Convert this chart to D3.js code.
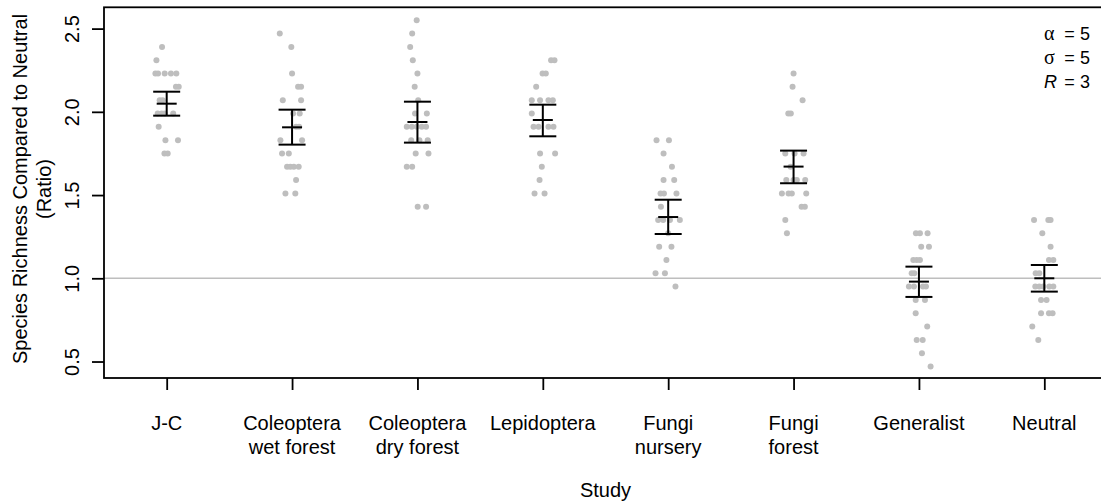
<!DOCTYPE html>
<html>
<head>
<meta charset="utf-8">
<script src="https://cdn.jsdelivr.net/npm/d3@7"></script>
<style>
  html, body { margin: 0; padding: 0; background: #fff; }
  svg { display: block; font-family: "Liberation Sans", Arial, Helvetica, sans-serif; }
</style>
</head>
<body>
<svg id="chart" width="1101" height="504"></svg>
<script>
// Study labels (line breaks split the two-line tick labels)
const studies = ["J-C", "Coleoptera\nwet forest", "Coleoptera\ndry forest", "Lepidoptera",
                 "Fungi\nnursery", "Fungi\nforest", "Generalist", "Neutral"];

// Per-replicate richness ratios and their horizontal jitter (in study units)
const ratioJC = [2.39, 2.31, 2.23, 2.23, 2.23, 2.23, 2.23, 2.15, 2.15, 2.07, 2.07, 1.99, 1.99, 1.99, 1.99, 1.91, 1.83, 1.83, 1.75, 1.75];
const jitterJC = [-0.037, -0.082, -0.090, -0.069, -0.016, 0.034, 0.077, 0.074, 0.096, -0.056, -0.032, -0.072, -0.040, -0.016, 0.052, -0.064, -0.010, 0.090, -0.018, 0.008];

const ratioColWet = [2.47, 2.39, 2.23, 2.15, 2.15, 2.07, 2.07, 1.99, 1.99, 1.91, 1.91, 1.83, 1.83, 1.75, 1.75, 1.67, 1.67, 1.67, 1.67, 1.59, 1.51, 1.51];
const jitterColWet = [-0.098, -0.006, 0.000, 0.048, 0.072, -0.074, 0.072, 0.008, 0.061, 0.032, 0.056, -0.093, 0.080, -0.080, -0.026, -0.040, -0.014, 0.014, 0.053, 0.032, -0.053, 0.026];

const ratioColDry = [2.55, 2.47, 2.39, 2.31, 2.23, 2.15, 2.07, 1.99, 1.99, 1.91, 1.91, 1.91, 1.91, 1.91, 1.83, 1.83, 1.83, 1.75, 1.75, 1.67, 1.67, 1.43, 1.43];
const jitterColDry = [-0.006, -0.042, -0.058, -0.037, 0.000, -0.022, 0.006, -0.019, 0.075, -0.085, -0.045, -0.005, 0.035, 0.069, -0.050, 0.016, 0.082, -0.014, 0.088, -0.085, -0.042, 0.002, 0.069];

const ratioLep = [2.31, 2.31, 2.23, 2.23, 2.15, 2.07, 2.07, 2.07, 2.07, 1.99, 1.91, 1.91, 1.91, 1.91, 1.75, 1.75, 1.67, 1.59, 1.51, 1.51];
const jitterLep = [0.066, 0.093, -0.002, 0.024, -0.053, -0.088, -0.022, 0.045, 0.080, -0.088, -0.074, -0.034, 0.045, 0.085, -0.022, 0.098, -0.008, -0.026, -0.066, 0.014];

const ratioFungiNur = [1.83, 1.83, 1.75, 1.67, 1.59, 1.59, 1.51, 1.51, 1.51, 1.43, 1.35, 1.35, 1.35, 1.35, 1.27, 1.19, 1.19, 1.11, 1.03, 1.03, 0.95];
const jitterFungiNur = [-0.093, 0.006, -0.037, 0.030, -0.037, 0.048, -0.061, -0.034, 0.066, -0.058, -0.080, -0.040, 0.014, 0.093, 0.000, -0.072, 0.026, -0.014, -0.101, -0.026, 0.058];

const ratioFungiFor = [2.23, 2.15, 2.07, 1.99, 1.99, 1.75, 1.75, 1.75, 1.67, 1.59, 1.59, 1.59, 1.59, 1.51, 1.51, 1.51, 1.51, 1.43, 1.43, 1.35, 1.27];
const jitterFungiFor = [0.000, -0.008, 0.072, -0.042, -0.022, -0.066, 0.008, 0.080, -0.024, -0.058, 0.000, 0.026, 0.093, -0.093, -0.040, -0.014, 0.101, 0.064, 0.090, -0.066, -0.053];

const ratioGen = [1.27, 1.27, 1.27, 1.19, 1.19, 1.11, 1.11, 1.11, 1.03, 1.03, 0.95, 0.95, 0.95, 0.95, 0.87, 0.87, 0.79, 0.71, 0.63, 0.63, 0.55, 0.47];
const jitterGen = [-0.024, 0.008, 0.069, 0.018, 0.080, -0.045, -0.018, 0.008, -0.058, -0.037, -0.080, -0.040, 0.032, 0.056, -0.026, 0.048, -0.026, 0.066, -0.018, 0.030, 0.024, 0.093];

const ratioNeutral = [1.35, 1.35, 1.35, 1.27, 1.19, 1.11, 1.11, 1.03, 1.03, 0.95, 0.95, 0.95, 0.95, 0.95, 0.87, 0.87, 0.79, 0.79, 0.79, 0.71, 0.63];
const jitterNeutral = [-0.082, 0.032, 0.050, -0.016, 0.050, 0.037, 0.072, -0.069, -0.040, -0.072, -0.040, -0.008, 0.040, 0.072, -0.026, 0.018, -0.026, 0.037, 0.066, -0.096, -0.048];

// Mean ratio per study with its lower / upper error limits
const meanRatio = [2.049, 1.907, 1.939, 1.951, 1.368, 1.671, 0.980, 1.000];
const lowerRatio = [1.977, 1.803, 1.815, 1.853, 1.266, 1.571, 0.888, 0.920];
const upperRatio = [2.121, 2.013, 2.061, 2.043, 1.472, 1.767, 1.070, 1.080];

const yTicks = [0.5, 1.0, 1.5, 2.0, 2.5];

const ratios = [ratioJC, ratioColWet, ratioColDry, ratioLep, ratioFungiNur, ratioFungiFor, ratioGen, ratioNeutral];
const jitters = [jitterJC, jitterColWet, jitterColDry, jitterLep, jitterFungiNur, jitterFungiFor, jitterGen, jitterNeutral];

const svg = d3.select("#chart");

const plot = { left: 104, right: 1107, top: 7.3, bottom: 378 };

const x = d3.scaleLinear().domain([0.5, 8.5]).range([plot.left, plot.right]);
const y = d3.scaleLinear().domain([0.401, 2.628]).range([plot.bottom, plot.top]);

// Reference line at ratio 1 (same richness as neutral)
svg.append("line")
  .attr("x1", plot.left).attr("x2", plot.right)
  .attr("y1", y(1)).attr("y2", y(1))
  .attr("stroke", "#bebebe").attr("stroke-width", 1.5);

// Replicate points
const pts = [];
ratios.forEach((vals, i) => {
  vals.forEach((v, j) => pts.push({ study: i + 1, value: v, jit: jitters[i][j] }));
});
svg.append("g").selectAll("circle")
  .data(pts).join("circle")
  .attr("cx", d => x(d.study + d.jit))
  .attr("cy", d => y(d.value))
  .attr("r", 3)
  .attr("fill", "#bebebe");

// Error bars: vertical span, end caps and a shorter mean tick
const bars = svg.append("g").attr("stroke", "#000").attr("stroke-width", 2).attr("fill", "none");
meanRatio.forEach((m, i) => {
  const cx = x(i + 1);
  bars.append("line").attr("x1", cx).attr("x2", cx).attr("y1", y(lowerRatio[i])).attr("y2", y(upperRatio[i]));
  bars.append("line").attr("x1", cx - 13.5).attr("x2", cx + 13.5).attr("y1", y(upperRatio[i])).attr("y2", y(upperRatio[i]));
  bars.append("line").attr("x1", cx - 13.5).attr("x2", cx + 13.5).attr("y1", y(lowerRatio[i])).attr("y2", y(lowerRatio[i]));
  bars.append("line").attr("x1", cx - 10).attr("x2", cx + 10).attr("y1", y(m)).attr("y2", y(m));
});

// Y axis
const yAxis = svg.append("g")
  .attr("transform", `translate(${plot.left},0)`)
  .call(d3.axisLeft(y).tickValues(yTicks).tickSize(12).tickFormat(d3.format(".1f")));
yAxis.select(".domain").remove();
yAxis.selectAll(".tick line").attr("stroke", "#000").attr("stroke-width", 1.8);
yAxis.selectAll(".tick text")
  .attr("x", null).attr("dy", null)
  .attr("transform", "translate(-25,0) rotate(-90)")
  .attr("text-anchor", "middle")
  .attr("font-size", 20)
  .attr("font-family", "Liberation Sans, Arial, sans-serif")
  .attr("fill", "#000");

// X axis with two-line study labels
const xAxis = svg.append("g")
  .attr("transform", `translate(0,${plot.bottom})`)
  .call(d3.axisBottom(x).tickValues(d3.range(1, studies.length + 1)).tickSize(12).tickFormat(""));
xAxis.select(".domain").remove();
xAxis.selectAll(".tick line").attr("stroke", "#000").attr("stroke-width", 1.8);
xAxis.selectAll(".tick text").remove();

const xLab = svg.append("g").attr("font-size", 20).attr("text-anchor", "middle").attr("fill", "#000");
studies.forEach((s, i) => {
  const t = xLab.append("text").attr("x", x(i + 1)).attr("y", 430);
  s.split("\n").forEach((line, k) => {
    t.append("tspan").attr("x", x(i + 1)).attr("dy", k === 0 ? 0 : 24).text(line);
  });
});

// Plot frame
svg.append("rect")
  .attr("x", plot.left).attr("y", plot.top)
  .attr("width", plot.right - plot.left).attr("height", plot.bottom - plot.top)
  .attr("fill", "none").attr("stroke", "#000").attr("stroke-width", 1.8);

// Axis titles
svg.append("text")
  .attr("x", (plot.left + plot.right) / 2).attr("y", 497)
  .attr("text-anchor", "middle").attr("font-size", 20).text("Study");

const yTitle = svg.append("text")
  .attr("transform", "translate(27,189) rotate(-90)")
  .attr("text-anchor", "middle").attr("font-size", 20);
yTitle.append("tspan").attr("x", 0).attr("y", 0).text("Species Richness Compared to Neutral");
yTitle.append("tspan").attr("x", 0).attr("y", 24).text("(Ratio)");

// Model parameters
const params = [
  { sym: "\u03B1", val: "5", italic: false, serif: true },
  { sym: "\u03C3", val: "5", italic: false, serif: true },
  { sym: "R", val: "3", italic: true, serif: false }
];
const pg = svg.append("g").attr("font-size", 18).attr("fill", "#000");
params.forEach((p, i) => {
  const by = 40 + i * 24;
  pg.append("text").attr("x", 1044).attr("y", by)
    .attr("font-family", p.serif ? "Liberation Serif, Times New Roman, serif" : "Liberation Sans, Arial, sans-serif")
    .attr("font-style", p.italic ? "italic" : "normal")
    .attr("font-size", p.serif ? 20 : 18)
    .text(p.sym);
  pg.append("text").attr("x", 1069.5).attr("y", by).attr("text-anchor", "middle").text("=");
  pg.append("text").attr("x", 1080).attr("y", by).text(p.val);
});
</script>
</body>
</html>
